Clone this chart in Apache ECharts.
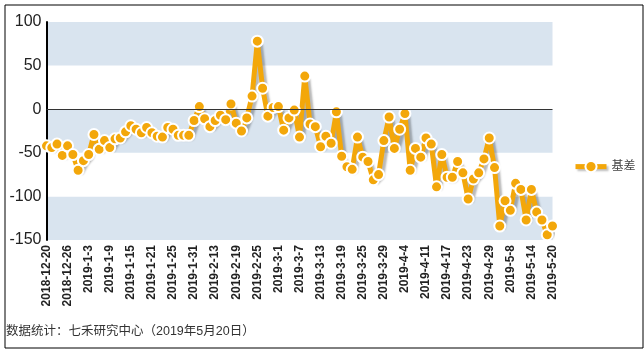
<!DOCTYPE html>
<html>
<head>
<meta charset="utf-8">
<script src="https://cdn.jsdelivr.net/npm/echarts@6/dist/echarts.min.js"></script>
<style>
html,body{margin:0;padding:0;background:#fff;}
#c{width:644px;height:349px;}
</style>
</head>
<body>
<div id="c"></div>
<script>
var categories = [
'2018-12-20','2018-12-21','2018-12-24','2018-12-25','2018-12-26','2018-12-27','2018-12-28',
'2019-1-2','2019-1-3','2019-1-4','2019-1-7','2019-1-8','2019-1-9','2019-1-10','2019-1-11',
'2019-1-14','2019-1-15','2019-1-16','2019-1-17','2019-1-18','2019-1-21','2019-1-22','2019-1-23',
'2019-1-24','2019-1-25','2019-1-28','2019-1-29','2019-1-30','2019-1-31',
'2019-2-1','2019-2-11','2019-2-12','2019-2-13','2019-2-14','2019-2-15','2019-2-18','2019-2-19',
'2019-2-20','2019-2-21','2019-2-22','2019-2-25','2019-2-26','2019-2-27','2019-2-28',
'2019-3-1','2019-3-4','2019-3-5','2019-3-6','2019-3-7','2019-3-8','2019-3-11','2019-3-12',
'2019-3-13','2019-3-14','2019-3-15','2019-3-18','2019-3-19','2019-3-20','2019-3-21','2019-3-22',
'2019-3-25','2019-3-26','2019-3-27','2019-3-28','2019-3-29',
'2019-4-1','2019-4-2','2019-4-3','2019-4-4','2019-4-8','2019-4-9','2019-4-10','2019-4-11',
'2019-4-12','2019-4-15','2019-4-16','2019-4-17','2019-4-18','2019-4-19','2019-4-22','2019-4-23',
'2019-4-24','2019-4-25','2019-4-26','2019-4-29','2019-4-30',
'2019-5-6','2019-5-7','2019-5-8','2019-5-9','2019-5-10','2019-5-13','2019-5-14','2019-5-15',
'2019-5-16','2019-5-17','2019-5-20'
];
var basisValues = [
-42,-44,-40,-53,-42,-52,-70,-59,-52,-29,-46,-36,-44,-34,-33,-26,-19,-23,-27,-21,
-27,-31,-32,-21,-23,-30,-30,-30,-13,3,-11,-20,-13,-7,-12,6,-16,-25,-10,15,
78,24,-8,2,3,-24,-10,-1,-32,38,-17,-20,-43,-31,-39,-3,-54,-66,-69,-32,
-55,-60,-81,-75,-36,-9,-45,-23,-5,-70,-45,-55,-33,-40,-89,-52,-78,-78,-60,-73,
-103,-80,-73,-57,-33,-67,-134,-105,-116,-85,-92,-127,-92,-118,-127,-144,-134
];
var seriesName = '基差';
var footerText = '数据统计：七禾研究中心（2019年5月20日）';
var yMin = -150, yMax = 100, yInterval = 50;

var chart = echarts.init(document.getElementById('c'), null, {renderer:'canvas'});
var FONT = '"Liberation Sans", Arial, "Noto Sans CJK SC", sans-serif';
chart.setOption({
  animation: false,
  backgroundColor: '#fff',
  textStyle: {fontFamily: FONT},
  grid: {left: 46.5, right: 91.5, top: 22, bottom: 109, containLabel: false},
  legend: {
    data: [seriesName],
    orient: 'vertical',
    left: 573, top: 160, padding: 0,
    itemWidth: 31, itemHeight: 14, itemGap: 7,
    lineStyle: {width: 5, shadowColor: 'rgba(0,0,0,0.25)', shadowBlur: 2, shadowOffsetX: 2, shadowOffsetY: 2},
    textStyle: {fontSize: 12, color: '#444', fontFamily: FONT}
  },
  xAxis: {
    type: 'category',
    data: categories,
    boundaryGap: false,
    axisLine: {show: false, onZero: false},
    axisTick: {show: false},
    splitLine: {show: false},
    axisLabel: {interval: 3, rotate: 90, fontSize: 12, fontWeight: 'bold', color: '#222', margin: 5, fontFamily: FONT}
  },
  yAxis: {
    type: 'value',
    min: yMin, max: yMax, interval: yInterval,
    axisLine: {show: true, lineStyle: {color: '#000', width: 2}},
    axisTick: {show: false},
    splitLine: {show: false},
    splitArea: {show: true, areaStyle: {color: ['#d9e4ef', '#ffffff']}},
    axisLabel: {fontSize: 16, color: '#222', margin: 5, fontFamily: FONT}
  },
  series: [{
    name: seriesName,
    type: 'line',
    data: basisValues,
    symbol: 'circle',
    symbolSize: 11,
    showAllSymbol: true,
    color: '#f3a70a',
    lineStyle: {width: 5, color: '#f3a70a', shadowColor: 'rgba(0,0,0,0.28)', shadowBlur: 2, shadowOffsetX: 3, shadowOffsetY: 3},
    itemStyle: {color: '#f3a70a', borderColor: '#fff', borderWidth: 2},
    markLine: {
      silent: true,
      symbol: 'none',
      label: {show: false},
      lineStyle: {color: '#333', width: 1, type: 'solid'},
      data: [{yAxis: 0}]
    },
    z: 3
  }],
  graphic: [
    {type: 'rect', left: 2.5, top: 2.5, silent: true,
      shape: {width: 638, height: 343},
      style: {fill: 'none', stroke: '#000', lineWidth: 1}},
    {type: 'text', left: 6, top: 325,
      style: {text: footerText, fontSize: 12.5, fill: '#333', fontFamily: FONT}}
  ]
});
</script>
</body>
</html>
